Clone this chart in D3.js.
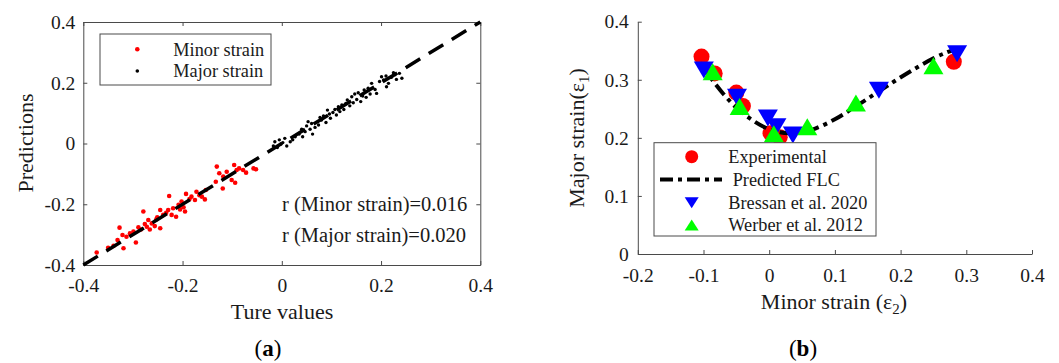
<!DOCTYPE html>
<html><head><meta charset="utf-8">
<script src="https://cdn.jsdelivr.net/npm/d3@7"></script>
<style>
body{margin:0;background:#fff;}
svg{display:block;font-family:"Liberation Serif","Times New Roman",serif;}
svg text{font-family:"Liberation Serif","Times New Roman",serif !important;}
</style></head><body>
<svg id="c" width="1059" height="363"></svg>
<script>
// ---------- Data: panel (a) ----------
const minorTrue = [-0.373,-0.350,-0.339,-0.327,-0.331,-0.321,-0.319,-0.313,-0.306,-0.299,-0.294,-0.289,-0.284,-0.279,-0.276,-0.272,-0.269,-0.266,-0.262,-0.256,-0.253,-0.251,-0.245,-0.245,-0.239,-0.233,-0.229,-0.227,-0.222,-0.219,-0.213,-0.208,-0.205,-0.202,-0.198,-0.195,-0.193,-0.186,-0.182,-0.175,-0.172,-0.166,-0.161,-0.155,-0.153,-0.133,-0.131,-0.126,-0.119,-0.118,-0.111,-0.101,-0.096,-0.094,-0.091,-0.086,-0.078,-0.072,-0.057,-0.052];
const minorPred = [-0.359,-0.343,-0.337,-0.277,-0.318,-0.301,-0.345,-0.307,-0.296,-0.290,-0.326,-0.276,-0.283,-0.224,-0.265,-0.274,-0.252,-0.283,-0.263,-0.272,-0.250,-0.243,-0.279,-0.219,-0.235,-0.228,-0.219,-0.173,-0.235,-0.213,-0.241,-0.202,-0.217,-0.191,-0.210,-0.224,-0.166,-0.183,-0.175,-0.186,-0.159,-0.170,-0.175,-0.184,-0.153,-0.126,-0.076,-0.098,-0.148,-0.109,-0.093,-0.120,-0.071,-0.129,-0.087,-0.082,-0.087,-0.096,-0.082,-0.085];
const majorTrue = [-0.017,-0.014,-0.009,-0.005,-0.002,0.002,0.006,0.010,0.017,0.022,0.027,0.035,0.040,0.042,0.047,0.050,0.053,0.057,0.060,0.062,0.067,0.074,0.077,0.080,0.084,0.089,0.092,0.096,0.098,0.103,0.107,0.110,0.114,0.117,0.121,0.125,0.129,0.132,0.137,0.141,0.144,0.147,0.151,0.154,0.159,0.163,0.166,0.170,0.174,0.178,0.181,0.188,0.191,0.197,0.201,0.205,0.210,0.211,0.215,0.221,0.225,0.228,0.231,0.237,0.242];
const majorPred = [-0.008,0.006,-0.013,0.012,-0.002,0.003,0.017,-0.008,0.006,0.012,0.022,0.031,0.047,0.022,0.039,0.058,0.072,0.047,0.066,0.031,0.053,0.061,0.086,0.077,0.091,0.069,0.110,0.097,0.083,0.102,0.112,0.094,0.121,0.105,0.127,0.112,0.132,0.143,0.124,0.154,0.134,0.163,0.145,0.167,0.138,0.156,0.176,0.152,0.182,0.163,0.198,0.178,0.165,0.204,0.220,0.209,0.222,0.187,0.198,0.218,0.233,0.226,0.211,0.231,0.215];
const aTicks = [-0.4,-0.2,0,0.2,0.4];
const aTickLabels = ["-0.4","-0.2","0","0.2","0.4"];
const aLegend = ["Minor strain","Major strain"];
const aNotes = ["r (Minor strain)=0.016","r (Major strain)=0.020"];

// ---------- Data: panel (b) ----------
const expX = [-0.103,-0.083,-0.050,-0.040,0.002,0.016,0.281];
const expY = [0.340,0.311,0.278,0.255,0.208,0.201,0.331];
const flcX = [-0.105,-0.09,-0.07,-0.05,-0.03,-0.01,0.01,0.03,0.05,0.07,0.10,0.13,0.16,0.19,0.22,0.25,0.27,0.29];
const flcY = [0.329,0.305,0.276,0.252,0.234,0.220,0.211,0.208,0.210,0.216,0.232,0.253,0.275,0.297,0.318,0.337,0.347,0.355];
const bresX = [-0.0995,-0.049,-0.002,0.011,0.036,0.167,0.286];
const bresY = [0.317,0.270,0.234,0.219,0.205,0.282,0.345];
const werbX = [-0.086,-0.045,0.007,0.058,0.132,0.250];
const werbY = [0.314,0.254,0.207,0.219,0.260,0.324];
const bXTicks = [-0.2,-0.1,0,0.1,0.2,0.3,0.4];
const bXTickLabels = ["-0.2","-0.1","0","0.1","0.2","0.3","0.4"];
const bYTicks = [0,0.1,0.2,0.3,0.4];
const bYTickLabels = ["0","0.1","0.2","0.3","0.4"];
const bLegend = ["Experimental","Predicted FLC","Bressan et al. 2020","Werber et al. 2012"];

const svg = d3.select("#c");
const AX = "#4a4a4a", TXT = "#1a1a1a";
const SERIF = "'Liberation Serif','Times New Roman',serif";

function styleAxis(g){
  g.attr("font-family", null).attr("font-size", null);
  g.select(".domain").attr("stroke", AX).attr("stroke-width",1);
  g.selectAll(".tick line").attr("stroke", AX);
  g.selectAll(".tick text").attr("fill", TXT)
    .style("font-size","19.5px").style("font-family", SERIF);
}

// ================= Panel (a) =================
const ax = d3.scaleLinear().domain([-0.4,0.4]).range([83.3,480.3]);
const ay = d3.scaleLinear().domain([-0.4,0.4]).range([265,22]);
const aG = svg.append("g");

aG.append("g").attr("transform","translate(0,265)")
  .call(d3.axisBottom(ax).tickValues(aTicks).tickFormat((d,i)=>aTickLabels[i]).tickSize(-4).tickSizeOuter(0).tickPadding(13))
  .call(styleAxis);
aG.append("g").attr("transform","translate(83.3,0)")
  .call(d3.axisLeft(ay).tickValues(aTicks).tickFormat((d,i)=>aTickLabels[i]).tickSize(-4).tickSizeOuter(0).tickPadding(8))
  .call(styleAxis);
aG.append("g").attr("transform","translate(0,22)")
  .call(d3.axisTop(ax).tickValues(aTicks).tickFormat("").tickSize(-4).tickSizeOuter(0))
  .call(styleAxis);
aG.append("g").attr("transform","translate(480.3,0)")
  .call(d3.axisRight(ay).tickValues(aTicks).tickFormat("").tickSize(-4).tickSizeOuter(0))
  .call(styleAxis);

aG.append("g").selectAll("circle").data(minorTrue).join("circle")
  .attr("cx",(d)=>ax(d)).attr("cy",(d,i)=>ay(minorPred[i])).attr("r",2.3).attr("fill","#ff0000");
aG.append("g").selectAll("circle").data(majorTrue).join("circle")
  .attr("cx",(d)=>ax(d)).attr("cy",(d,i)=>ay(majorPred[i])).attr("r",1.7).attr("fill","#000");

aG.append("line").attr("x1",ax(-0.4)).attr("y1",ay(-0.4)).attr("x2",ax(0.4)).attr("y2",ay(0.4))
  .attr("stroke","#000").attr("stroke-width",3.5).attr("stroke-dasharray","17,10");

// legend a
aG.append("rect").attr("x",100).attr("y",34).attr("width",171).attr("height",51)
  .attr("fill","#fff").attr("stroke",AX).attr("stroke-width",1);
const aLegRows = [49.3,71];
aG.append("circle").attr("cx",137.3).attr("cy",aLegRows[0]).attr("r",2.3).attr("fill","#ff0000");
aG.append("circle").attr("cx",137.3).attr("cy",aLegRows[1]).attr("r",1.8).attr("fill","#000");
aLegend.forEach((t,i)=>{
  aG.append("text").attr("x",173.3).attr("y",aLegRows[i]).attr("dy","0.34em")
    .attr("font-size","18.3px").attr("fill",TXT).text(t);
});
aNotes.forEach((t,i)=>{
  aG.append("text").attr("x",282).attr("y",[204,235][i]).attr("dy","0.34em")
    .attr("font-size","20.5px").attr("fill",TXT).text(t);
});
aG.append("text").attr("x",282).attr("y",319).attr("text-anchor","middle")
  .attr("font-size","22px").attr("fill",TXT).text("Ture values");
aG.append("text").attr("transform","translate(33,143) rotate(-90)").attr("text-anchor","middle")
  .attr("font-size","22px").attr("fill",TXT).text("Predictions");
const capA = aG.append("text").attr("x",268).attr("y",356).attr("text-anchor","middle")
  .attr("font-size","23px").attr("fill","#000");
capA.append("tspan").text("(");
capA.append("tspan").attr("font-weight","bold").text("a");
capA.append("tspan").text(")");

// ================= Panel (b) =================
const bx = d3.scaleLinear().domain([-0.2,0.4]).range([637.8,1032]);
const by = d3.scaleLinear().domain([0,0.4]).range([254,21.7]);
const bG = svg.append("g");

bG.append("g").attr("transform","translate(0,254)")
  .call(d3.axisBottom(bx).tickValues(bXTicks).tickFormat((d,i)=>bXTickLabels[i]).tickSize(-4).tickSizeOuter(0).tickPadding(14))
  .call(styleAxis);
bG.append("g").attr("transform","translate(637.8,0)")
  .call(d3.axisLeft(by).tickValues(bYTicks).tickFormat((d,i)=>bYTickLabels[i]).tickSize(-4).tickSizeOuter(0).tickPadding(9))
  .call(styleAxis);

const triDown = (cx,cy,w,h)=>`M${cx-w/2},${cy-h/2}L${cx+w/2},${cy-h/2}L${cx},${cy+h/2}Z`;
const triUp = (cx,cy,w,h)=>`M${cx-w/2},${cy+h/2}L${cx+w/2},${cy+h/2}L${cx},${cy-h/2}Z`;

bG.append("g").selectAll("circle").data(expX).join("circle")
  .attr("cx",d=>bx(d)).attr("cy",(d,i)=>by(expY[i])).attr("r",8).attr("fill","#ff0000");

const line = d3.line().x(d=>bx(d[0])).y(d=>by(d[1])).curve(d3.curveCatmullRom);
bG.append("path").datum(flcX.map((x,i)=>[x,flcY[i]])).attr("d",line)
  .attr("fill","none").attr("stroke","#000").attr("stroke-width",4).attr("stroke-dasharray","13,5,4,5");

bG.append("g").selectAll("path").data(bresX).join("path")
  .attr("d",(d,i)=>triDown(bx(d),by(bresY[i]),20,17)).attr("fill","#0000ff");
bG.append("g").selectAll("path").data(werbX).join("path")
  .attr("d",(d,i)=>triUp(bx(d),by(werbY[i]),20,17)).attr("fill","#00ff00");

// legend b
bG.append("rect").attr("x",654).attr("y",142.7).attr("width",222).attr("height",93.3)
  .attr("fill","#fff").attr("stroke",AX).attr("stroke-width",1);
const bRows = [156.7,179.5,202.7,225];
bG.append("circle").attr("cx",691.7).attr("cy",bRows[0]).attr("r",6.5).attr("fill","#ff0000");
bG.append("line").attr("x1",660).attr("x2",722).attr("y1",bRows[1]).attr("y2",bRows[1])
  .attr("stroke","#000").attr("stroke-width",4).attr("stroke-dasharray","13,5,4,5");
bG.append("path").attr("d",triDown(691.7,bRows[2],14,11)).attr("fill","#0000ff");
bG.append("path").attr("d",triUp(691.7,bRows[3],14,11)).attr("fill","#00ff00");
bLegend.forEach((t,i)=>{
  bG.append("text").attr("x", i===1 ? 732.7 : 728.3).attr("y",bRows[i]).attr("dy","0.34em")
    .attr("font-size","18.3px").attr("fill",TXT).text(t);
});

const xl = bG.append("text").attr("x",834).attr("y",309).attr("text-anchor","middle")
  .attr("font-size","22px").attr("fill",TXT);
xl.append("tspan").text("Minor strain (ε");
xl.append("tspan").attr("font-size","15px").attr("dy","5").text("2");
xl.append("tspan").attr("dy","-5").text(")");
const yl = bG.append("text").attr("transform","translate(584,138) rotate(-90)").attr("text-anchor","middle")
  .attr("font-size","22px").attr("fill",TXT);
yl.append("tspan").text("Major strain(ε");
yl.append("tspan").attr("font-size","15px").attr("dy","5").text("1");
yl.append("tspan").attr("dy","-5").text(")");
const capB = bG.append("text").attr("x",803).attr("y",356).attr("text-anchor","middle")
  .attr("font-size","23px").attr("fill","#000");
capB.append("tspan").text("(");
capB.append("tspan").attr("font-weight","bold").text("b");
capB.append("tspan").text(")");
</script>
</body></html>
